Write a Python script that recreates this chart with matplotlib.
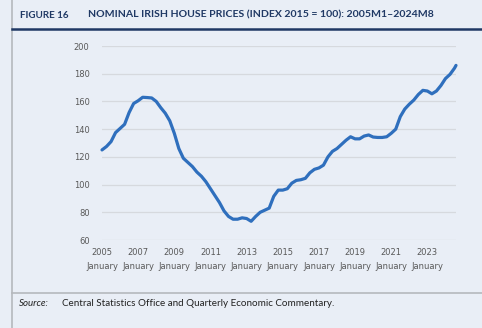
import matplotlib
matplotlib.use("Agg")
import matplotlib.pyplot as plt
from matplotlib.lines import Line2D

# ---- data (quarterly readings, plus the last month) ----
years = [y for y in range(2005, 2025) for _ in range(4)][:-1] + [2024]
months = [1, 4, 7, 10] * 19 + [1, 4, 7, 8]
values = [
    125.0, 127.5, 131.0, 137.5,
    140.5, 143.5, 152.0, 158.5,
    160.5, 163.0, 162.8, 162.5,
    160.0, 155.5, 151.5, 146.0,
    137.0, 126.0, 119.0, 116.0,
    113.0, 109.0, 106.0, 102.0,
    97.0, 92.0, 87.0, 81.0,
    77.0, 75.0, 75.0, 76.0,
    75.5, 73.5, 77.0, 80.0,
    81.5, 83.0, 91.5, 96.0,
    96.0, 97.0, 101.0, 103.0,
    103.5, 104.5, 108.5, 111.0,
    112.0, 114.0, 120.0, 124.0,
    126.0, 129.0, 132.0, 134.5,
    133.0, 133.0, 135.0, 135.8,
    134.3, 134.0, 134.0, 134.5,
    137.0, 140.0, 149.0, 154.5,
    158.0, 161.0, 165.0, 168.0,
    167.5, 165.5, 167.5, 171.5,
    176.5, 179.5, 184.0, 186.0,
]
tick_years = [2005, 2007, 2009, 2011, 2013, 2015, 2017, 2019, 2021, 2023]
tick_labels = [f"{y}\nJanuary" for y in tick_years]
y_ticks = [60, 80, 100, 120, 140, 160, 180, 200]

x = [y + (m - 1) / 12 for y, m in zip(years, months)]

BG = "#e9eef6"
NAVY = "#1f3864"
fig = plt.figure(figsize=(4.82, 3.28), dpi=100, facecolor=BG)

ax = fig.add_axes([102/482, 1 - 240/328, (456-102)/482, (240-46)/328])
ax.set_facecolor(BG)
ax.plot(x, values, color="#2f6fbd", lw=2.3, solid_capstyle="round", solid_joinstyle="round",
        zorder=3, clip_on=False)
ax.set_xlim(x[0], x[-1])
ax.set_ylim(60, 200)
ax.set_yticks(y_ticks)
ax.set_xticks(tick_years)
ax.set_xticklabels(tick_labels, linespacing=1.7)
ax.grid(axis="y", color="#d6d9de", lw=0.9)
ax.grid(axis="x", visible=False)
for s in ax.spines.values():
    s.set_visible(False)
ax.tick_params(length=0, labelsize=6, colors="#595959", labelcolor="#595959")
ax.tick_params(axis="y", pad=9)
ax.tick_params(axis="x", pad=6)
ax.set_axisbelow(True)

# frame lines
fig.add_artist(Line2D([12/482, 12/482], [0, 1], color="#b5b8bd", lw=1.2, transform=fig.transFigure))
fig.add_artist(Line2D([12/482, 1], [1 - 29/328, 1 - 29/328], color=NAVY, lw=1.8, transform=fig.transFigure))
fig.add_artist(Line2D([12/482, 1], [1 - 293/328, 1 - 293/328], color="#b5b8bd", lw=1.2, transform=fig.transFigure))

fig.text(20/482, 1 - 15/328, "FIGURE 16", fontsize=7.0, fontweight="bold", color=NAVY,
         family="Lato", va="center", ha="left")
fig.text(88/482, 1 - 15/328, "NOMINAL IRISH HOUSE PRICES (INDEX 2015 = 100): 2005M1\u20132024M8",
         fontsize=7.55, fontweight="bold", color=NAVY, family="Lato", va="center", ha="left")
fig.text(19/482, 1 - 303/328, "Source:", fontsize=7.0, style="italic", color="#222222",
         family="Lato", va="center", ha="left")
fig.text(62/482, 1 - 303/328, "Central Statistics Office and Quarterly Economic Commentary.",
         fontsize=7.1, color="#222222", family="Lato", va="center", ha="left")

fig.savefig("out.png", dpi=100, facecolor=BG)
